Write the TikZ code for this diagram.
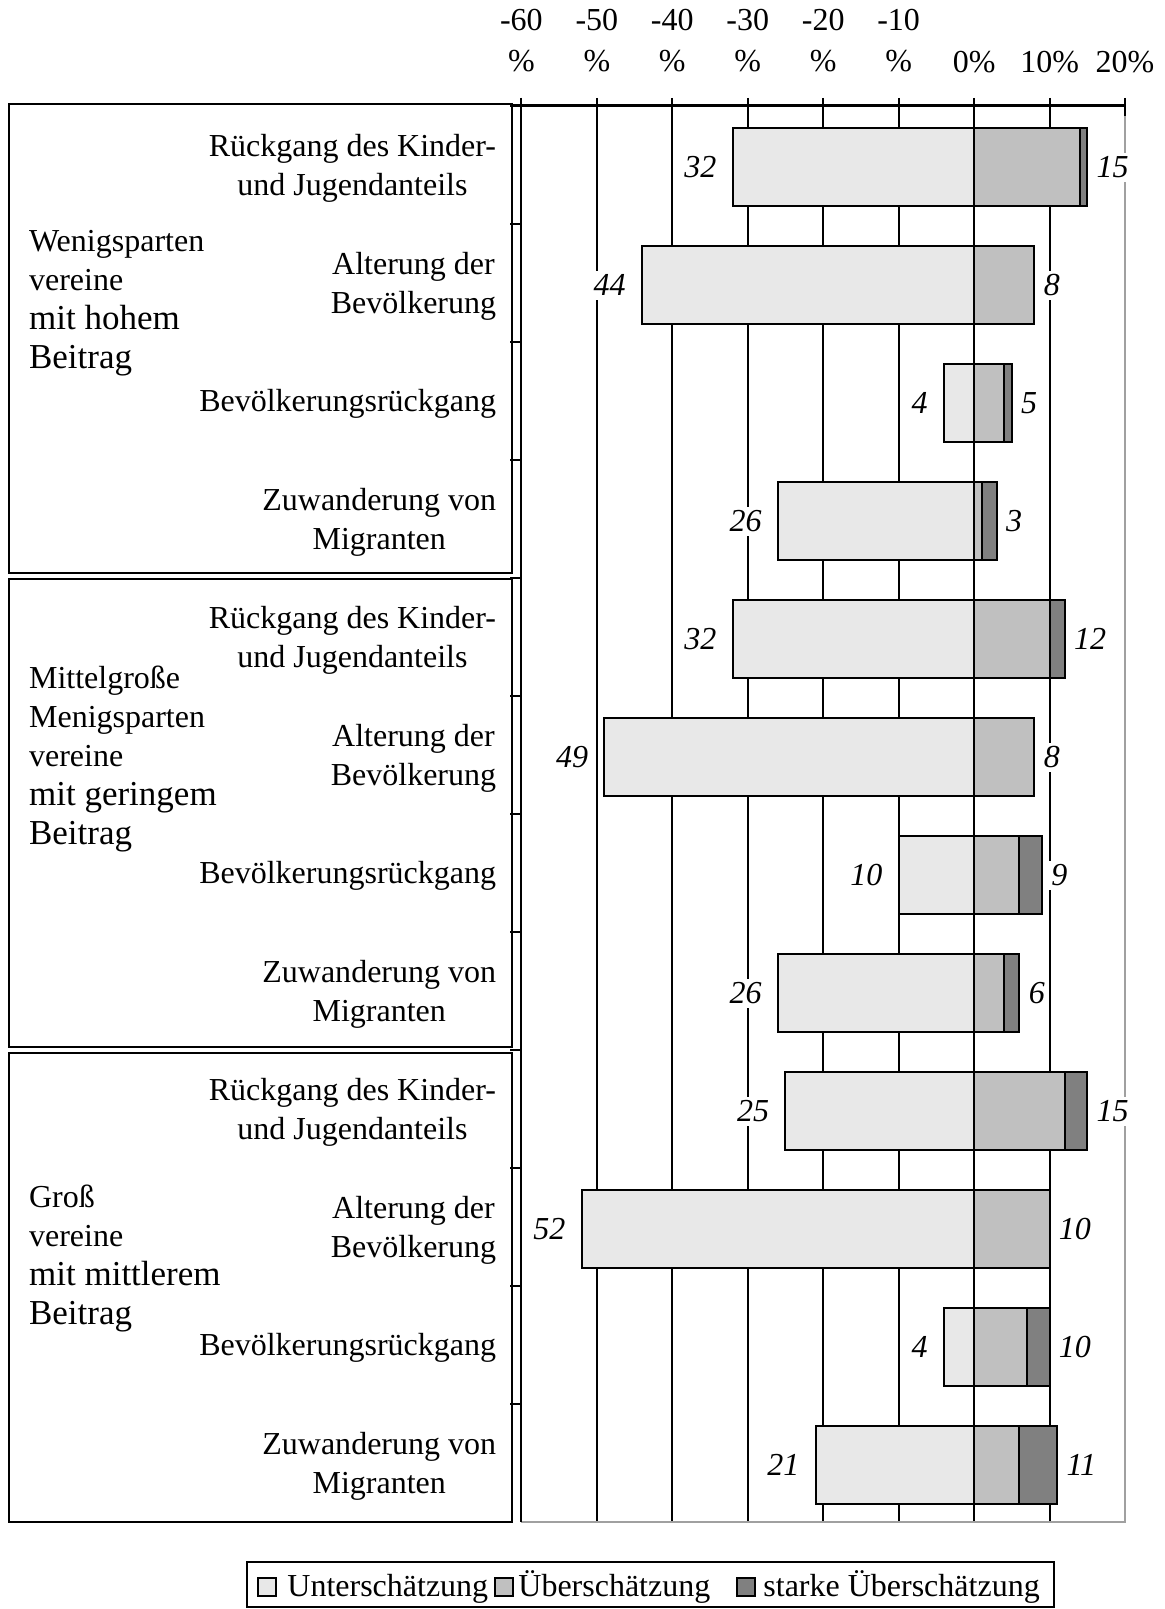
\documentclass[tikz,border=0pt]{standalone}
\usepackage{fontspec}
\setmainfont{Liberation Serif}
\usetikzlibrary{positioning}

\definecolor{unterfarbe}{HTML}{E8E8E8}
\definecolor{ueberfarbe}{HTML}{C0C0C0}
\definecolor{starkfarbe}{HTML}{808080}
\definecolor{rahmenfarbe}{HTML}{A0A0A0}

\begin{document}
\begin{tikzpicture}[
  x=0.5pt,y=-0.5pt,
  every node/.style={font=\fontsize{16}{19.5}\selectfont},
  achse/.style={line width=1.3pt},
  gitter/.style={line width=1pt},
  rahmen/.style={line width=1.3pt,rahmenfarbe},
  gruppe/.style={draw,line width=1pt},
  unter/.style={draw,line width=1pt,fill=unterfarbe},
  ueber/.style={unter,fill=ueberfarbe},
  stark/.style={unter,fill=starkfarbe},
  wert/.style={fill=white,inner sep=2pt,font=\fontsize{16}{19.5}\selectfont\itshape},
  skala/.style={align=center,inner sep=0pt,font=\fontsize{16}{20.5}\selectfont},
  kategorie/.style={align=center,anchor=east,inner sep=0pt},
  gruppentext/.style={align=left,anchor=west,inner sep=0pt},
  kaestchen/.style={draw,line width=1pt,minimum size=9pt,inner sep=0pt,anchor=south west},
  eintrag/.style={inner sep=0pt,anchor=base west}]

  \useasboundingbox (0,0) rectangle (1165,1609);

  % Skala oben
  \foreach \v in {-60,-50,-40,-30,-20,-10}
    \node[skala] (t\v) at ({974.1+7.545*\v},41) {\v\\\%};
  \node[skala] (t0) at (974.1,61.6) {0\%};
  \node[skala] (t10) at (1049.6,61.6) {10\%};
  \node[skala] (t20) at (1125,61.6) {20\%};

  % Gitterlinien und Rahmen
  \foreach \v in {-60,-50,...,10}
    \draw[gitter] ({974.1+7.545*\v},98) -- ({974.1+7.545*\v},1522);
  \draw[gitter] (1125,98) -- (1125,116);
  \draw[rahmen] (1125,116) -- (1125,1522) -- (521,1522);

  % Balken: Zeile/Unter/Ueber/Stark/Summe
  \foreach \k/\u/\o/\s/\r in {1/32/14/1/15, 2/44/8/0/8, 3/4/4/1/5, 4/26/1/2/3,
      5/32/10/2/12, 6/49/8/0/8, 7/10/6/3/9, 8/26/4/2/6,
      9/25/12/3/15, 10/52/10/0/10, 11/4/7/3/10, 12/21/6/5/11} {
    \pgfmathsetmacro{\ym}{167.3+118*(\k-1)}
    \pgfmathsetmacro{\xl}{974.1-7.545*\u}
    \pgfmathsetmacro{\xo}{974.1+7.545*\o}
    \pgfmathsetmacro{\xs}{974.1+7.545*(\o+\s)}
    \draw[unter] (\xl,\ym-39) rectangle (974.1,\ym+39);
    \draw[ueber] (974.1,\ym-39) rectangle (\xo,\ym+39);
    \draw[stark] (\xo,\ym-39) rectangle (\xs,\ym+39);
    \node[wert,anchor=east] (l\k) at (\xl-12,\ym) {\u};
    \node[wert,anchor=west] (r\k) at (\xs+5,\ym) {\r};
  }

  % Achsen
  \draw[achse] (510,105.7) -- (1126,105.7);
  \draw[achse] (521,98) -- (521,1522);
  \foreach \k in {1,...,11}
    \draw[gitter] (510,{105.7+118*\k}) -- (521,{105.7+118*\k});

  % Kategorien
  \foreach \g in {0,1,2} {
    \node[kategorie] (kr\g) at (496.5,{168.3+472*\g}) {Rückgang des Kinder-\\und Jugendanteils};
    \node[kategorie] (ka\g) at (496.5,{286.3+472*\g}) {Alterung der\\Bevölkerung};
    \node[kategorie] (kb\g) at (496.5,{404.3+472*\g}) {Bevölkerungsrückgang};
    \node[kategorie] (kz\g) at (496.5,{522.3+472*\g}) {Zuwanderung von\\Migranten};
  }

  % Vereinsgruppen
  \draw[gruppe] (9.2,103.7) rectangle (512,572.7);
  \draw[gruppe] (9.2,578.9) rectangle (512,1047);
  \draw[gruppe] (9.2,1053) rectangle (512,1522);
  \node[gruppentext] (g1) at (28.7,303) {Wenigsparten\\vereine\\
      {\fontsize{17.5}{21}\selectfont mit hohem}\\{\fontsize{17.5}{21}\selectfont Beitrag}};
  \node[gruppentext] (g2) at (28.7,759) {Mittelgroße\\Menigsparten\\vereine\\
      {\fontsize{17.5}{21}\selectfont mit geringem}\\{\fontsize{17.5}{21}\selectfont Beitrag}};
  \node[gruppentext] (g3) at (28.7,1258) {Groß\\vereine\\
      {\fontsize{17.5}{21}\selectfont mit mittlerem}\\{\fontsize{17.5}{21}\selectfont Beitrag}};

  % Legende
  \draw[line width=1pt] (247.4,1562) rectangle (1054,1607);
  \node[kaestchen,fill=unterfarbe] (q1) at (257,1597) {};
  \node[eintrag] (e1) at (287,1596) {Unterschätzung};
  \node[kaestchen,fill=ueberfarbe] (q2) at (494,1597) {};
  \node[eintrag] (e2) at (518,1596) {Überschätzung};
  \node[kaestchen,fill=starkfarbe] (q3) at (736,1597) {};
  \node[eintrag] (e3) at (763,1596) {starke Überschätzung};

\end{tikzpicture}
\end{document}
